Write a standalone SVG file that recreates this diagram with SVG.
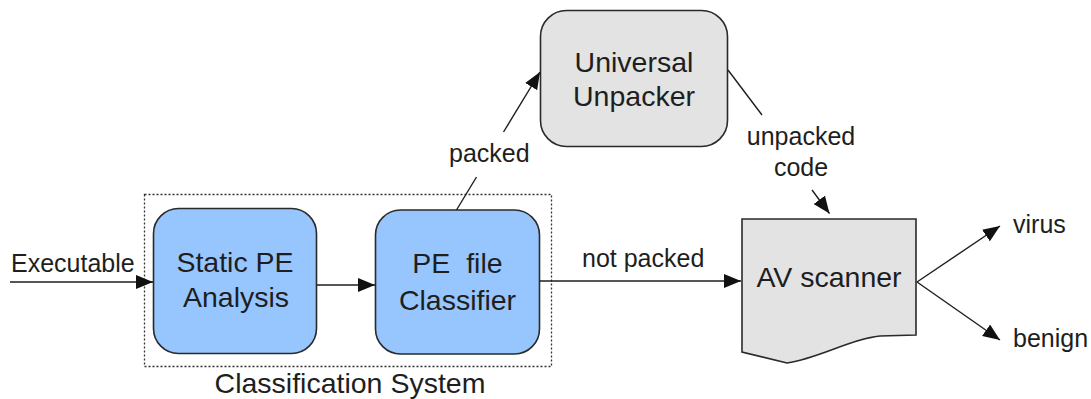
<svg xmlns="http://www.w3.org/2000/svg" width="1091" height="399" viewBox="0 0 1091 399">
<style>
text{font-family:"Liberation Sans",Arial,sans-serif;fill:#1e1e1e}
.big{font-size:28.5px}
.lbl{font-size:25px}
.blue{fill:#96c6fd;stroke:#2a2a2a;stroke-width:1.6}
.gray{fill:#e3e3e3;stroke:#2a2a2a;stroke-width:1.6}
.con{stroke:#1e1e1e;stroke-width:1.4;fill:none}
</style>
<defs>
<marker id="ah" markerUnits="userSpaceOnUse" markerWidth="18" markerHeight="14" refX="17" refY="7" orient="auto">
<path d="M0,0 L17,7 L0,14 Z" fill="#111"/>
</marker>
</defs>
<g id="classification-system">
<rect x="144.5" y="194.5" width="407" height="172" fill="none" stroke="#333" stroke-width="1.3" stroke-dasharray="2,2"/>
<text class="big" x="350" y="393" text-anchor="middle">Classification System</text>
</g>
<g id="static-pe">
<rect class="blue" x="153.5" y="208.5" width="163" height="145" rx="25"/>
<text class="big" x="235" y="272" text-anchor="middle">Static PE</text>
<text class="big" x="236" y="307" text-anchor="middle">Analysis</text>
</g>
<g id="pe-classifier">
<rect class="blue" x="375.5" y="210" width="164" height="144" rx="25"/>
<text class="big" x="457.5" y="273" text-anchor="middle" xml:space="preserve">PE  file</text>
<text class="big" x="457.5" y="310" text-anchor="middle">Classifier</text>
</g>
<g id="unpacker">
<rect class="gray" x="540.5" y="10.5" width="187" height="136" rx="26"/>
<text class="big" x="634" y="72" text-anchor="middle">Universal</text>
<text class="big" x="634" y="106" text-anchor="middle">Unpacker</text>
</g>
<g id="av-scanner">
<path class="gray" d="M742,219 L916,219 L916,335 L880,336 C850,339 820,358 787,363 L742,352 Z"/>
<text class="big" x="829" y="287" text-anchor="middle">AV scanner</text>
</g>
<g id="connectors">
<line class="con" x1="10" y1="282" x2="153" y2="282" marker-end="url(#ah)"/>
<line class="con" x1="317" y1="285" x2="375" y2="285" marker-end="url(#ah)"/>
<line class="con" x1="540" y1="281" x2="741" y2="281" marker-end="url(#ah)"/>
<line class="con" x1="456.5" y1="210" x2="476.5" y2="177"/>
<line class="con" x1="503.5" y1="132" x2="540" y2="72" marker-end="url(#ah)"/>
<line class="con" x1="728" y1="70" x2="762" y2="115"/>
<line class="con" x1="812" y1="190" x2="829.5" y2="213.5" marker-end="url(#ah)"/>
<line class="con" x1="917" y1="282" x2="1000" y2="226" marker-end="url(#ah)"/>
<line class="con" x1="917" y1="282" x2="1000" y2="340" marker-end="url(#ah)"/>
</g>
<g id="labels">
<text class="lbl" x="11" y="272">Executable</text>
<text class="lbl" x="449" y="162">packed</text>
<text class="lbl" x="582" y="267">not packed</text>
<text class="lbl" x="801" y="145" text-anchor="middle">unpacked</text>
<text class="lbl" x="801" y="176" text-anchor="middle">code</text>
<text class="lbl" x="1013" y="233">virus</text>
<text class="lbl" x="1013" y="347">benign</text>
</g>
</svg>
